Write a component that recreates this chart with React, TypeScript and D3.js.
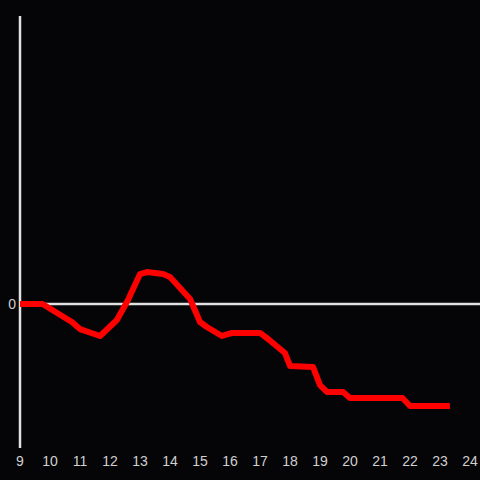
import React from "react";
import * as d3 from "d3";

const hours = [9, 9.75, 10.73, 11.0, 11.67, 12.23, 12.6, 13.0, 13.23, 13.77, 14.0, 14.67, 15.0, 15.23, 15.73, 16.07, 17.0, 17.27, 17.83, 18.0, 18.77, 19.0, 19.23, 19.77, 20.0, 21.75, 22.0, 23.33];
const values = [0, 0, -0.125, -0.174, -0.222, -0.111, 0.028, 0.208, 0.222, 0.208, 0.1875, 0.035, -0.125, -0.16, -0.222, -0.201, -0.201, -0.243, -0.34, -0.43, -0.438, -0.563, -0.611, -0.611, -0.653, -0.653, -0.708, -0.708];
const xTicks = [9, 10, 11, 12, 13, 14, 15, 16, 17, 18, 19, 20, 21, 22, 23, 24];
const yTicks = [0];

export default function App() {
  if (typeof document !== "undefined") document.body.style.margin = "0";
  const W = 480, H = 480;
  const x = d3.scaleLinear().domain([9, 24]).range([20, 470]);
  const y = d3.scaleLinear().domain([-1, 2]).range([448, 16]);
  const data = hours.map((h, i) => [h, values[i]] as [number, number]);
  const line = d3.line<[number, number]>().x(d => x(d[0])).y(d => y(d[1]));
  const axisColor = "#e0e0e0";
  return (
    <svg width={W} height={H} style={{ display: "block", background: "#050507" }}>
      <rect width={W} height={H} fill="#050507" />
      <line x1={x(9)} x2={x(9)} y1={y(2)} y2={y(-1)} stroke={axisColor} strokeWidth={2.5} />
      <line x1={x(9)} x2={W} y1={y(0)} y2={y(0)} stroke={axisColor} strokeWidth={2.5} />
      {yTicks.map(t => (
        <text key={t} x={x(9) - 4} y={y(t)} dy="0.35em" textAnchor="end" fill="#d0d0d0" fontFamily="Liberation Sans, Arial, sans-serif" fontSize={14}>{t}</text>
      ))}
      {xTicks.map(t => (
        <text key={t} x={x(t)} y={461} dy="0.35em" textAnchor="middle" fill="#d0d0d0" fontFamily="Liberation Sans, Arial, sans-serif" fontSize={14}>{t}</text>
      ))}
      <path d={line(data) || ""} fill="none" stroke="#ff0000" strokeWidth={6} strokeLinejoin="round" />
    </svg>
  );
}
